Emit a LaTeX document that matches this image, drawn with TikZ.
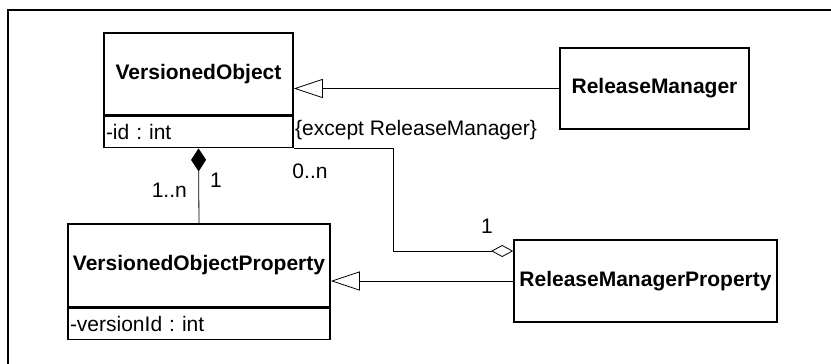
\documentclass[tikz,border=0pt]{standalone}
\usepackage{fontspec}
\setmainfont{Liberation Sans}
\usetikzlibrary{arrows.meta}
\frenchspacing

\begin{document}
\begin{tikzpicture}[x=1pt,y=-1pt,
  every node/.style={font=\fontsize{21}{25}\selectfont,inner sep=0pt},
  classname/.style={draw,line width=1.6pt,font=\fontsize{21}{25}\selectfont\bfseries},
  attr/.style={draw,line width=1.6pt,align=left,anchor=north,minimum height=31pt},
  link/.style={line width=0.8pt},
  gen/.style={link,-{Triangle[open,length=29pt,width=19pt]}},
  comp/.style={link,-{Diamond[length=23pt,width=15pt]}},
  aggr/.style={link,-{Diamond[open,length=22pt,width=12pt]}}]
\useasboundingbox (0,0) rectangle (831,364);
\draw[line width=1.8pt] (8,364) -- (8,10) -- (831,10);
\node[classname,minimum width=189pt,minimum height=82pt] (vo) at (198.5,74) {VersionedObject};
\node[attr,minimum width=189pt,text width=185pt] (voAttr) at (vo.south) {-id : int};
\node[classname,minimum width=189pt,minimum height=81pt] (rm) at (654.5,88.5) {ReleaseManager};
\node[classname,minimum width=262pt,minimum height=83pt] (vop) at (199,265.5) {VersionedObjectProperty};
\node[attr,minimum width=262pt,text width=258pt] (vopAttr) at (vop.south) {-versionId : int};
\node[classname,minimum width=263pt,minimum height=82pt] (rmp) at (645.5,281) {ReleaseManagerProperty};
\coordinate (bend) at (393,251);
\coordinate (aggEnd) at ([yshift=30pt]rmp.west);
\draw[gen] (rm.west) -- (rm.west -| vo.east);
\draw[gen] (rmp.west) -- (rmp.west -| vop.east);
\draw[comp] (vop.north) -- (voAttr.south);
\draw[aggr] (voAttr.south east) -| (bend) -- (aggEnd);
\node[anchor=west] (constr) at (295,130) {\{except ReleaseManager\}};
\node[anchor=east] (multVop) at (187,190) {1..n};
\node (multVo) at (216,180) {1};
\node (multRm) at (310,171) {0..n};
\node (multRmp) at (487,226) {1};
\end{tikzpicture}
\end{document}
